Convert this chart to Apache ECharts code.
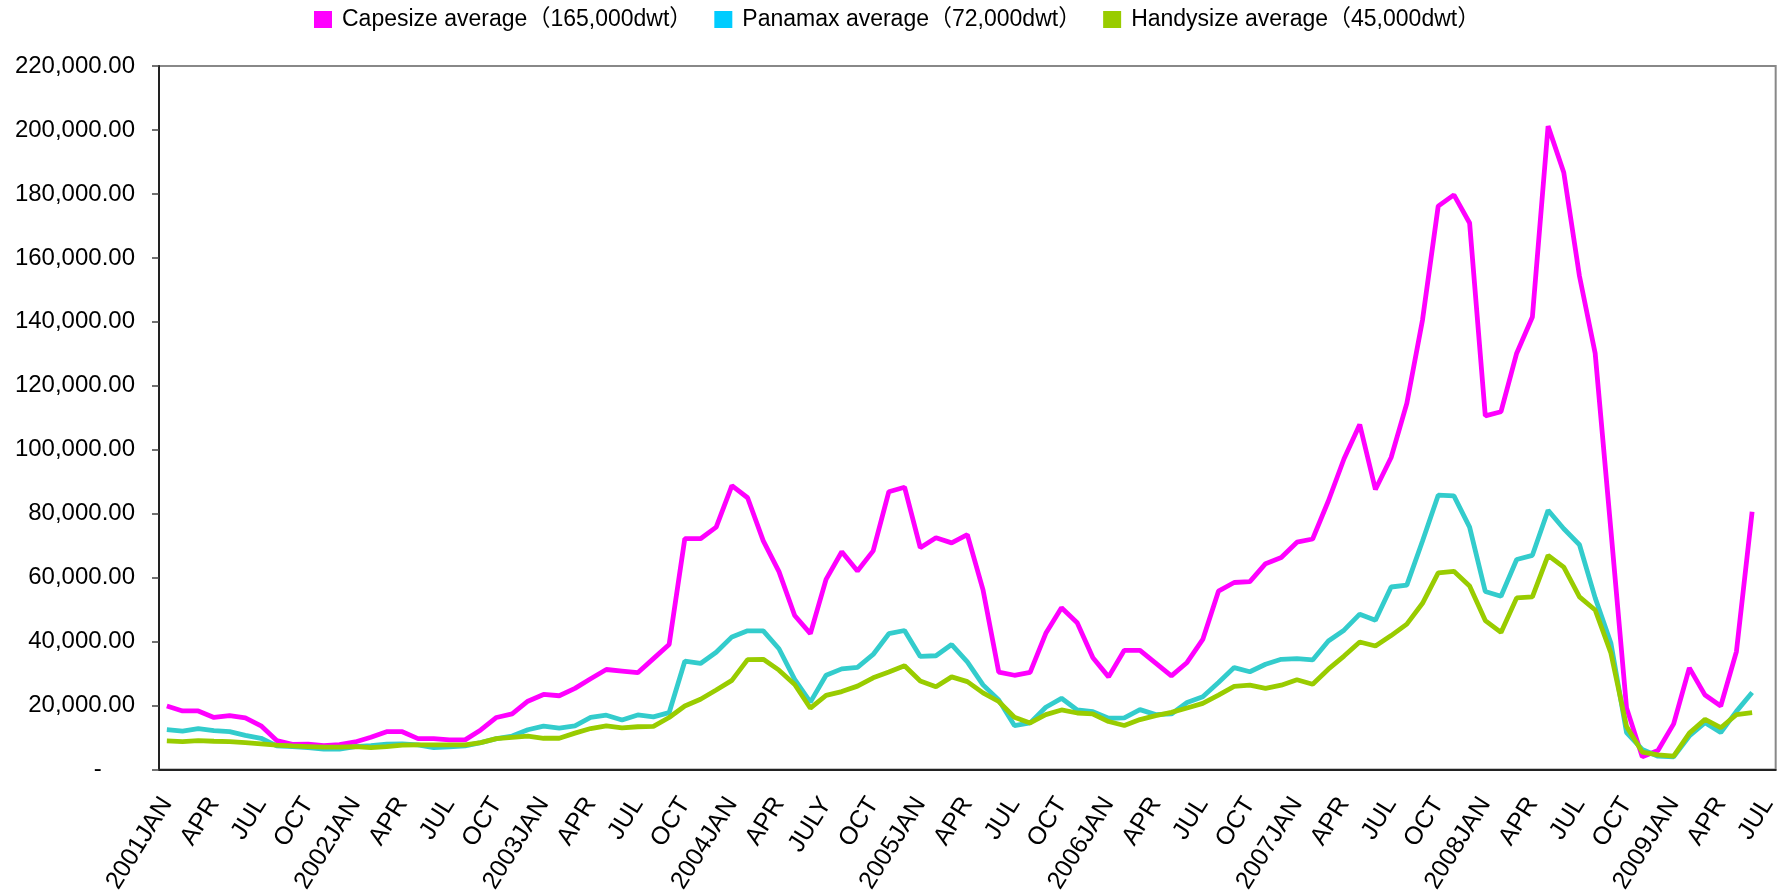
<!DOCTYPE html>
<html>
<head>
<meta charset="utf-8">
<script src="https://cdn.jsdelivr.net/npm/echarts@6/dist/echarts.min.js"></script>
<style>
html,body{margin:0;padding:0;background:#fff;}
#chart{width:1780px;height:896px;}
</style>
</head>
<body>
<div id="chart"></div>
<script>
// Tick labels shown every 3 months (2001 JAN .. 2009 JUL)
var tickLabels = [
  "2001JAN","APR","JUL","OCT",
  "2002JAN","APR","JUL","OCT",
  "2003JAN","APR","JUL","OCT",
  "2004JAN","APR","JULY","OCT",
  "2005JAN","APR","JUL","OCT",
  "2006JAN","APR","JUL","OCT",
  "2007JAN","APR","JUL","OCT",
  "2008JAN","APR","JUL","OCT",
  "2009JAN","APR","JUL"
];
var monthNames = ["JAN","FEB","MAR","APR","MAY","JUN","JUL","AUG","SEP","OCT","NOV","DEC"];
var startYear = 2001, endYear = 2009, endMonth = 7;

var seriesNames = [
  "Capesize average\uFF08165,000dwt\uFF09",
  "Panamax average\uFF0872,000dwt\uFF09",
  "Handysize average\uFF0845,000dwt\uFF09"
];

var capesize = [
  19900,18350,18350,16300,16900,16200,13700,9070,7900,8000,7500,7800,
  8650,10100,11850,11850,9700,9700,9300,9300,12400,16300,17400,21400,
  23500,23100,25400,28400,31300,30800,30300,34700,39100,72200,72200,75800,
  88800,85000,71500,61900,48200,42500,59500,68100,62100,68400,86900,88300,
  69400,72500,70900,73500,56200,30500,29500,30400,42600,50600,45900,35000,
  29000,37300,37300,33300,29300,33500,40700,55800,58500,58800,64400,66300,
  71100,72100,84000,97200,107900,87600,97600,114500,140600,176200,179700,170900,
  110600,111900,130200,141500,201200,186700,154300,130200,75000,19300,4000,6000,
  14300,31800,23300,19900,36900,80600
];
var panamax = [
  12470,12060,12780,12170,11860,10720,9800,7420,7220,6900,6400,6400,
  7200,7530,7940,8040,7730,6900,7110,7420,8450,9690,10500,12470,
  13600,13000,13700,16300,17000,15500,17100,16500,17800,33900,33200,36700,
  41500,43400,43400,37800,28200,21100,29500,31500,32000,36000,42500,43500,
  35400,35600,39100,33700,26500,21800,13780,14600,19500,22300,18650,18130,
  16060,16160,18750,17200,17400,21000,22800,27250,31900,30600,32950,34500,
  34700,34300,40200,43600,48600,46700,57100,57700,71500,85800,85600,75800,
  55700,54200,65700,67000,81100,75300,70300,53700,39600,11600,6300,4200,
  4000,10500,14700,11600,18200,24100
];
var handysize = [
  8970,8760,9070,8870,8760,8450,8040,7630,7420,7220,7010,7010,
  7220,6900,7220,7630,7730,7730,7730,7730,8450,9690,10100,10500,
  9800,9800,11400,12850,13700,13050,13400,13500,16300,19900,22000,24900,
  27900,34400,34500,31100,26600,19200,23200,24400,26100,28700,30500,32500,
  27700,25900,29000,27500,24000,21300,16370,14600,17200,18650,17700,17400,
  15030,13780,15650,16900,17900,19270,20700,23300,26000,26400,25400,26400,
  28100,26700,31400,35500,39900,38650,41900,45500,52000,61500,62000,57400,
  46600,42900,53700,54000,67000,63300,54000,49900,36500,13500,5500,4600,
  4200,11400,15700,13100,17200,17800
];

var lineColors = ["#FF00FF", "#33CCCC", "#99CC00"];
var legendColors = ["#FF00FF", "#00CCFF", "#99CC00"];

var categories = [];
for (var y = startYear; y <= endYear; y++) {
  for (var m = 0; m < 12; m++) {
    if (y === endYear && m >= endMonth) break;
    categories.push(y + monthNames[m]);
  }
}

function fmt(v) {
  if (v === 0) return "-     ";
  return String(v).replace(/\B(?=(\d{3})+(?!\d))/g, ",") + ".00";
}

var FONT = "'Liberation Sans', Arial, 'Noto Sans CJK JP', sans-serif";
var chart = echarts.init(document.getElementById('chart'), null, {renderer: 'canvas'});
var seriesData = [capesize, panamax, handysize];
var option = {
  backgroundColor: '#ffffff',
  animation: false,
  legend: {
    left: 314,
    top: 8,
    padding: 0,
    icon: 'rect',
    itemWidth: 18,
    itemHeight: 17,
    itemGap: 22,
    textStyle: {fontFamily: FONT, fontSize: 23, color: '#000', padding: [0, 0, 0, 5]},
    data: seriesNames.map(function (n, i) {
      return {name: n, itemStyle: {color: legendColors[i]}};
    })
  },
  grid: {
    left: 159, right: 2, top: 66, bottom: 122,
    show: true, borderColor: '#888888', borderWidth: 2,
    backgroundColor: 'transparent'
  },
  xAxis: {
    type: 'category',
    data: categories,
    boundaryGap: true,
    axisLine: {lineStyle: {color: '#222', width: 2}},
    axisTick: {show: false},
    splitLine: {show: false},
    axisLabel: {
      interval: 2,
      rotate: 58,
      margin: 30,
      fontFamily: FONT,
      fontSize: 25,
      color: '#000',
      formatter: function (v, idx) { return tickLabels[Math.round(idx / 3)]; }
    }
  },
  yAxis: {
    type: 'value',
    min: 0, max: 220000, interval: 20000,
    axisLine: {show: true, lineStyle: {color: '#222', width: 2}},
    axisTick: {show: true, length: 7, lineStyle: {color: '#444', width: 1.5}},
    splitLine: {show: false},
    axisLabel: {
      margin: 24,
      fontFamily: FONT,
      fontSize: 24,
      color: '#000',
      formatter: fmt
    }
  },
  series: seriesNames.map(function (n, i) {
    return {
      name: n,
      type: 'line',
      data: seriesData[i],
      symbol: 'none',
      smooth: false,
      lineStyle: {color: lineColors[i], width: 4.8},
      itemStyle: {color: lineColors[i]}
    };
  })
};
chart.setOption(option);
</script>
</body>
</html>
